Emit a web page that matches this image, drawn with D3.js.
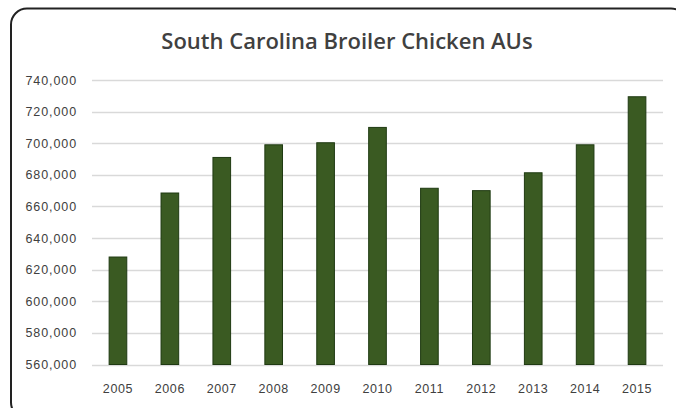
<!DOCTYPE html>
<html>
<head>
<meta charset="utf-8">
<script src="https://cdn.jsdelivr.net/npm/d3@7/dist/d3.min.js"></script>
<style>
  body { margin: 0; background: #fff; }
  svg { display: block; }
</style>
</head>
<body>
<script>
var width = 676, height = 408;

var years = ["2005", "2006", "2007", "2008", "2009", "2010", "2011", "2012", "2013", "2014", "2015"];
var aus = [628000, 668500, 691000, 699000, 700300, 710000, 671500, 670000, 681300, 699000, 729400];
var yTicks = [560000, 580000, 600000, 620000, 640000, 660000, 680000, 700000, 720000, 740000];
var title = "South Carolina Broiler Chicken AUs";

var svg = d3.select("body").append("svg")
    .attr("width", width)
    .attr("height", height);

// chart frame
svg.append("rect")
    .attr("x", 11).attr("y", 8.5)
    .attr("width", 676).attr("height", 410)
    .attr("rx", 16).attr("ry", 16)
    .attr("fill", "#fff")
    .attr("stroke", "#222")
    .attr("stroke-width", 2);

var x = d3.scaleBand().domain(years).range([92, 663]).paddingInner(0.66).paddingOuter(0.33);
var y = d3.scaleLinear().domain([560000, 740000]).range([364.5, 80]);

// gridlines
svg.append("g")
    .selectAll("line")
    .data(yTicks)
    .enter().append("line")
    .attr("x1", 92).attr("x2", 663)
    .attr("y1", function(d) { return Math.round(y(d)) + 0.5; })
    .attr("y2", function(d) { return Math.round(y(d)) + 0.5; })
    .attr("stroke", "#d9d9d9")
    .attr("stroke-width", 1.5);

var labelFont = "'Liberation Sans', sans-serif";

// y axis labels
var yAxis = svg.append("g")
    .attr("transform", "translate(77,0)")
    .call(d3.axisLeft(y).tickValues(yTicks).tickSize(0).tickPadding(0).tickFormat(d3.format(",")));
yAxis.select(".domain").remove();
yAxis.selectAll("text")
    .attr("fill", "#404040")
    .style("font-family", labelFont)
    .style("font-size", "12.5px")
    .style("letter-spacing", "0.9px");

// x axis labels
var xAxis = svg.append("g")
    .attr("transform", "translate(0,384)")
    .call(d3.axisBottom(x).tickSize(0).tickPadding(0));
xAxis.select(".domain").remove();
xAxis.selectAll("text")
    .attr("fill", "#404040")
    .style("font-family", labelFont)
    .style("font-size", "12.5px")
    .style("letter-spacing", "0.6px");

// bars
svg.append("g")
    .selectAll("rect")
    .data(aus)
    .enter().append("rect")
    .attr("x", function(d, i) { return x(years[i]); })
    .attr("y", function(d) { return y(d); })
    .attr("width", x.bandwidth())
    .attr("height", function(d) { return y(560000) - y(d); })
    .attr("fill", "#3a5a22")
    .attr("stroke", "#1f3a12")
    .attr("stroke-width", 1);

// title
svg.append("text")
    .attr("x", 347)
    .attr("y", 49)
    .attr("text-anchor", "middle")
    .attr("fill", "#404040")
    .style("font-family", "'Open Sans', sans-serif")
    .style("font-weight", "600")
    .style("font-size", "22px")
    .text(title);
</script>
</body>
</html>
